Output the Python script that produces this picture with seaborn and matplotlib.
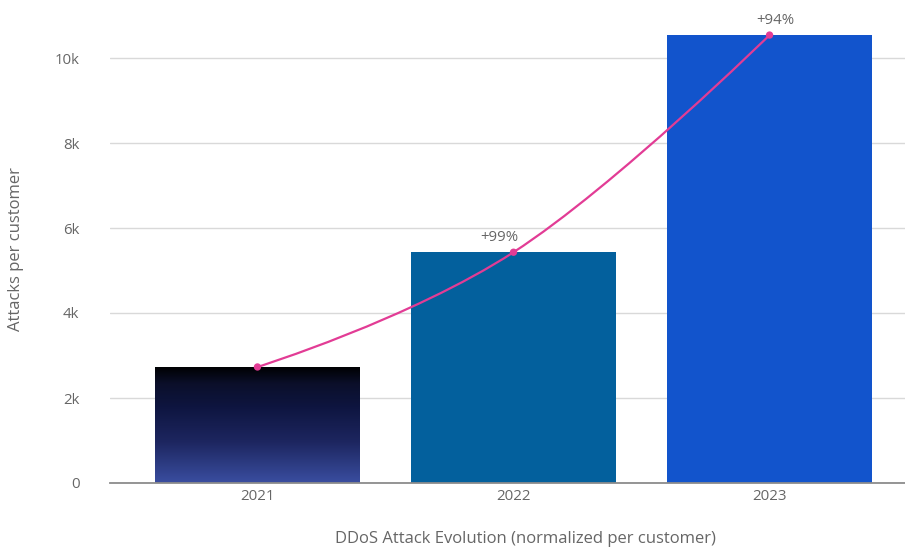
import numpy as np
import pandas as pd
import matplotlib
matplotlib.use("Agg")
import matplotlib.pyplot as plt
import seaborn as sns
from matplotlib.path import Path
from matplotlib.patches import PathPatch
from matplotlib.colors import LinearSegmentedColormap

# ---- data ----
years = ["2021", "2022", "2023"]
attacks = [2730, 5430, 10540]
growth_labels = ["", "+99%", "+94%"]
yticks = [0, 2000, 4000, 6000, 8000, 10000]
ytick_labels = ["0", "2k", "4k", "6k", "8k", "10k"]

bar_colors = ["#0b1030", "#03609d", "#1254cc"]
line_color = "#e23c95"
text_color = "#666666"

sns.set_theme(style="white")
plt.rcParams["font.family"] = ["Open Sans", "DejaVu Sans"]

fig = plt.figure(figsize=(9.05, 5.51), dpi=100)
W, H = 905, 551
ax = fig.add_axes([110 / W, (H - 483) / H, (905 - 110) / W, (483 - 15.5) / H])

df = pd.DataFrame({"year": years, "attacks": attacks})
sns.barplot(data=df, x="year", y="attacks", hue="year", palette=bar_colors,
            width=0.8, legend=False, ax=ax, saturation=1)

ax.set_xlim(-0.576, 2.529)
ax.set_ylim(0, 11000)

# gradient on the 2021 bar
grad_cmap = LinearSegmentedColormap.from_list(
    "g", [(0.0, "#3a4ea0"), (0.35, "#1d2660"), (0.65, "#0e1540"), (0.85, "#0b0f2a"), (1.0, "#000000")])
p0 = ax.patches[0]
x0, y0 = p0.get_x(), p0.get_y()
w0, h0 = p0.get_width(), p0.get_height()
grad = np.linspace(0, 1, 256).reshape(-1, 1)
im = ax.imshow(grad, cmap=grad_cmap, origin="lower", aspect="auto",
               extent=[x0, x0 + w0, y0, y0 + h0], zorder=p0.get_zorder() + 0.1)
im.set_clip_path(p0)
ax.set_xlim(-0.576, 2.529)
ax.set_ylim(0, 11000)

for p in ax.patches:
    p.set_edgecolor("none")

# grid
ax.set_yticks(yticks)
ax.set_yticklabels(ytick_labels)
ax.grid(axis="y", color="#d9d9d9", linewidth=1.0)
ax.set_axisbelow(True)
for s in ["top", "right", "left"]:
    ax.spines[s].set_visible(False)
ax.spines["bottom"].set_color("#8c8c8c")
ax.spines["bottom"].set_linewidth(1.3)
ax.spines["bottom"].set_zorder(5)

ax.tick_params(axis="y", length=0, pad=22, labelsize=10.8, labelcolor=text_color)
ax.tick_params(axis="x", length=0, pad=4, labelsize=10.8, labelcolor=text_color)

# smooth spline line (Highcharts-like)
xs = np.arange(len(attacks), dtype=float)
ys = np.array(attacks, dtype=float)
sm = 1.5
left_c, right_c = [], []
for i in range(len(xs)):
    if i == 0 or i == len(xs) - 1:
        left_c.append((xs[i], ys[i]))
        right_c.append((xs[i], ys[i]))
        continue
    lx = (sm * xs[i] + xs[i - 1]) / (sm + 1)
    ly = (sm * ys[i] + ys[i - 1]) / (sm + 1)
    rx = (sm * xs[i] + xs[i + 1]) / (sm + 1)
    ry = (sm * ys[i] + ys[i + 1]) / (sm + 1)
    slope = (ry - ly) / (rx - lx)
    left_c.append((lx, ys[i] + (lx - xs[i]) * slope))
    right_c.append((rx, ys[i] + (rx - xs[i]) * slope))
verts = [(xs[0], ys[0])]
codes = [Path.MOVETO]
for i in range(1, len(xs)):
    verts += [right_c[i - 1], left_c[i], (xs[i], ys[i])]
    codes += [Path.CURVE4] * 3
ax.add_patch(PathPatch(Path(verts, codes), facecolor="none", edgecolor=line_color,
                       linewidth=1.6, zorder=6))
sns.scatterplot(x=xs, y=ys, color=line_color, s=28, edgecolor="none", zorder=7, ax=ax)

offsets = [(0, 0), (-10, 5), (4, 5)]
for i, lab in enumerate(growth_labels):
    if lab:
        ax.annotate(lab, (xs[i], ys[i]), xytext=offsets[i], textcoords="offset points",
                    ha="center", va="bottom", fontsize=10.8, color=text_color, zorder=8)

ax.set_xlabel("DDoS Attack Evolution (normalized per customer)", fontsize=12, color=text_color)
ax.xaxis.set_label_coords(0.522, -0.103)
ax.set_ylabel("Attacks per customer", fontsize=12, color=text_color)
ax.yaxis.set_label_coords(-0.108, 0.5)

fig.savefig("out.png", dpi=100)
